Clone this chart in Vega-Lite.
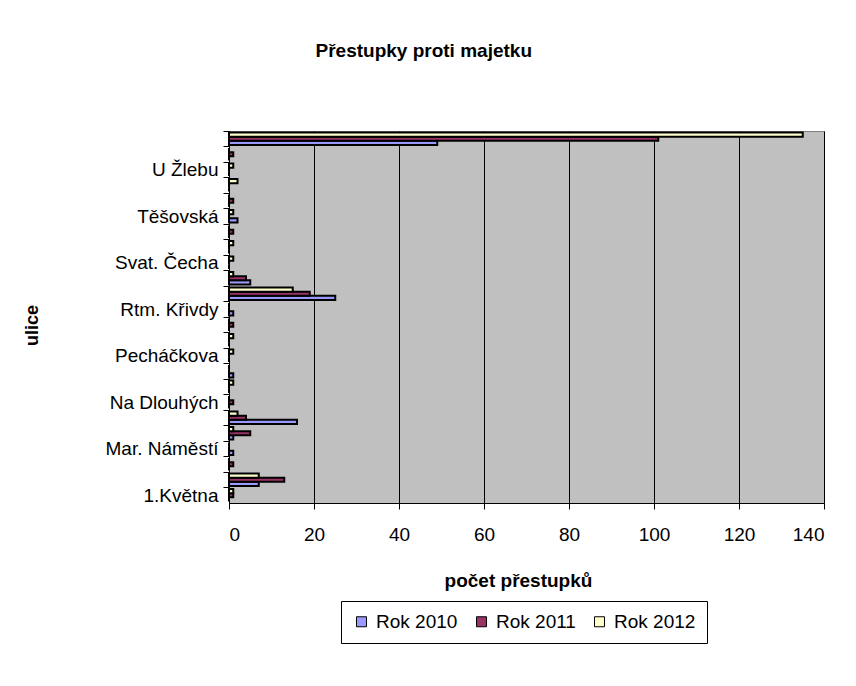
{
  "$schema": "https://vega.github.io/schema/vega-lite/v6.json",
  "width": 595,
  "height": 372,
  "autosize": {"type": "none"},
  "padding": {"left": 229, "top": 131, "right": 32, "bottom": 183},
  "background": "white",
  "title": {"text": "Přestupky proti majetku", "font": "Liberation Sans", "fontSize": 19, "fontWeight": "bold", "color": "black", "anchor": "middle", "frame": "bounds", "offset": 69},
  "datasets": {
    "prestupky": [
      {"ulice": "(ulice 24)", "rok": "Rok 2010", "pocet": 49}, {"ulice": "(ulice 24)", "rok": "Rok 2011", "pocet": 101}, {"ulice": "(ulice 24)", "rok": "Rok 2012", "pocet": 135},
      {"ulice": "(ulice 23)", "rok": "Rok 2010", "pocet": 0}, {"ulice": "(ulice 23)", "rok": "Rok 2011", "pocet": 1}, {"ulice": "(ulice 23)", "rok": "Rok 2012", "pocet": 0},
      {"ulice": "U Žlebu", "rok": "Rok 2010", "pocet": 0}, {"ulice": "U Žlebu", "rok": "Rok 2011", "pocet": 0}, {"ulice": "U Žlebu", "rok": "Rok 2012", "pocet": 1},
      {"ulice": "(ulice 21)", "rok": "Rok 2010", "pocet": 0}, {"ulice": "(ulice 21)", "rok": "Rok 2011", "pocet": 0}, {"ulice": "(ulice 21)", "rok": "Rok 2012", "pocet": 2},
      {"ulice": "(ulice 20)", "rok": "Rok 2010", "pocet": 0}, {"ulice": "(ulice 20)", "rok": "Rok 2011", "pocet": 1}, {"ulice": "(ulice 20)", "rok": "Rok 2012", "pocet": 0},
      {"ulice": "Těšovská", "rok": "Rok 2010", "pocet": 2}, {"ulice": "Těšovská", "rok": "Rok 2011", "pocet": 0}, {"ulice": "Těšovská", "rok": "Rok 2012", "pocet": 1},
      {"ulice": "(ulice 18)", "rok": "Rok 2010", "pocet": 0}, {"ulice": "(ulice 18)", "rok": "Rok 2011", "pocet": 1}, {"ulice": "(ulice 18)", "rok": "Rok 2012", "pocet": 0},
      {"ulice": "(ulice 17)", "rok": "Rok 2010", "pocet": 0}, {"ulice": "(ulice 17)", "rok": "Rok 2011", "pocet": 0}, {"ulice": "(ulice 17)", "rok": "Rok 2012", "pocet": 1},
      {"ulice": "Svat. Čecha", "rok": "Rok 2010", "pocet": 0}, {"ulice": "Svat. Čecha", "rok": "Rok 2011", "pocet": 0}, {"ulice": "Svat. Čecha", "rok": "Rok 2012", "pocet": 1},
      {"ulice": "(ulice 15)", "rok": "Rok 2010", "pocet": 5}, {"ulice": "(ulice 15)", "rok": "Rok 2011", "pocet": 4}, {"ulice": "(ulice 15)", "rok": "Rok 2012", "pocet": 1},
      {"ulice": "(ulice 14)", "rok": "Rok 2010", "pocet": 25}, {"ulice": "(ulice 14)", "rok": "Rok 2011", "pocet": 19}, {"ulice": "(ulice 14)", "rok": "Rok 2012", "pocet": 15},
      {"ulice": "Rtm. Křivdy", "rok": "Rok 2010", "pocet": 1}, {"ulice": "Rtm. Křivdy", "rok": "Rok 2011", "pocet": 0}, {"ulice": "Rtm. Křivdy", "rok": "Rok 2012", "pocet": 0},
      {"ulice": "(ulice 12)", "rok": "Rok 2010", "pocet": 0}, {"ulice": "(ulice 12)", "rok": "Rok 2011", "pocet": 1}, {"ulice": "(ulice 12)", "rok": "Rok 2012", "pocet": 0},
      {"ulice": "(ulice 11)", "rok": "Rok 2010", "pocet": 0}, {"ulice": "(ulice 11)", "rok": "Rok 2011", "pocet": 0}, {"ulice": "(ulice 11)", "rok": "Rok 2012", "pocet": 1},
      {"ulice": "Pecháčkova", "rok": "Rok 2010", "pocet": 0}, {"ulice": "Pecháčkova", "rok": "Rok 2011", "pocet": 0}, {"ulice": "Pecháčkova", "rok": "Rok 2012", "pocet": 1},
      {"ulice": "(ulice 9)", "rok": "Rok 2010", "pocet": 1}, {"ulice": "(ulice 9)", "rok": "Rok 2011", "pocet": 0}, {"ulice": "(ulice 9)", "rok": "Rok 2012", "pocet": 0},
      {"ulice": "(ulice 8)", "rok": "Rok 2010", "pocet": 0}, {"ulice": "(ulice 8)", "rok": "Rok 2011", "pocet": 0}, {"ulice": "(ulice 8)", "rok": "Rok 2012", "pocet": 1},
      {"ulice": "Na Dlouhých", "rok": "Rok 2010", "pocet": 0}, {"ulice": "Na Dlouhých", "rok": "Rok 2011", "pocet": 1}, {"ulice": "Na Dlouhých", "rok": "Rok 2012", "pocet": 0},
      {"ulice": "(ulice 6)", "rok": "Rok 2010", "pocet": 16}, {"ulice": "(ulice 6)", "rok": "Rok 2011", "pocet": 4}, {"ulice": "(ulice 6)", "rok": "Rok 2012", "pocet": 2},
      {"ulice": "(ulice 5)", "rok": "Rok 2010", "pocet": 1}, {"ulice": "(ulice 5)", "rok": "Rok 2011", "pocet": 5}, {"ulice": "(ulice 5)", "rok": "Rok 2012", "pocet": 1},
      {"ulice": "Mar. Náměstí", "rok": "Rok 2010", "pocet": 1}, {"ulice": "Mar. Náměstí", "rok": "Rok 2011", "pocet": 0}, {"ulice": "Mar. Náměstí", "rok": "Rok 2012", "pocet": 0},
      {"ulice": "(ulice 3)", "rok": "Rok 2010", "pocet": 0}, {"ulice": "(ulice 3)", "rok": "Rok 2011", "pocet": 1}, {"ulice": "(ulice 3)", "rok": "Rok 2012", "pocet": 0},
      {"ulice": "(ulice 2)", "rok": "Rok 2010", "pocet": 7}, {"ulice": "(ulice 2)", "rok": "Rok 2011", "pocet": 13}, {"ulice": "(ulice 2)", "rok": "Rok 2012", "pocet": 7},
      {"ulice": "1.Května", "rok": "Rok 2010", "pocet": 0}, {"ulice": "1.Května", "rok": "Rok 2011", "pocet": 1}, {"ulice": "1.Května", "rok": "Rok 2012", "pocet": 1}
    ]
  },
  "data": {"name": "prestupky"},
  "mark": {"type": "bar", "stroke": "black", "strokeWidth": 2},
  "encoding": {
    "y": {
      "field": "ulice", "type": "nominal", "sort": null,
      "scale": {"paddingInner": 0.2, "paddingOuter": 0.1},
      "axis": {
        "title": "ulice", "titleFont": "Liberation Sans", "titleFontSize": 18, "titleFontWeight": "bold", "titleColor": "black",
        "titleX": -197, "titleY": 194, "titleAngle": -90, "titleAlign": "center", "titleBaseline": "middle",
        "labelFont": "Liberation Sans", "labelFontSize": 19, "labelColor": "black",
        "labelExpr": "indexof(datum.value, '(') == 0 ? '' : datum.value",
        "tickOffset": -7.75, "labelOffset": 7.75,
        "tickSize": 6, "tickColor": "black", "domainColor": "black", "labelPadding": 5, "grid": false
      }
    },
    "yOffset": {"field": "rok", "type": "nominal", "scale": {"domain": ["Rok 2012", "Rok 2011", "Rok 2010"]}},
    "x": {
      "field": "pocet", "type": "quantitative",
      "scale": {"domain": [0, 140], "nice": false},
      "axis": {
        "title": "počet přestupků", "values": [0, 20, 40, 60, 80, 100, 120, 140],
        "grid": true, "gridColor": "black",
        "tickSize": 6, "tickColor": "black", "domainColor": "black",
        "labelFont": "Liberation Sans", "labelFontSize": 19, "labelColor": "black", "labelPadding": 16,
        "titleFont": "Liberation Sans", "titleFontSize": 19, "titleFontWeight": "bold", "titleColor": "black",
        "titleX": 289, "titleY": 77, "titleAlign": "center", "titleBaseline": "middle"
      }
    },
    "color": {
      "field": "rok", "type": "nominal",
      "scale": {"domain": ["Rok 2010", "Rok 2011", "Rok 2012"], "range": ["#9999FF", "#993366", "#FFFFCC"]},
      "legend": {
        "orient": "none", "legendX": 112, "legendY": 470, "direction": "horizontal", "title": null,
        "strokeColor": "black", "fillColor": "white", "padding": 11,
        "symbolType": "square", "symbolSize": 100, "symbolStrokeColor": "black", "symbolStrokeWidth": 1,
        "labelFont": "Liberation Sans", "labelFontSize": 19, "labelColor": "black", "labelOffset": 5, "columnPadding": 14
      }
    }
  },
  "config": {"view": {"fill": "#C0C0C0", "stroke": "#808080"}}
}
